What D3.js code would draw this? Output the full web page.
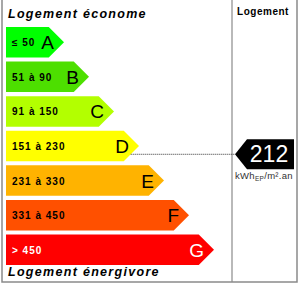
<!DOCTYPE html>
<html><head><meta charset="utf-8">
<script src="https://cdn.jsdelivr.net/npm/d3@7/dist/d3.min.js"></script>
<style>html,body{margin:0;padding:0;background:#fff;}svg{display:block;}</style>
</head><body><div id="chart"></div>
<script>
const classes = ["A","B","C","D","E","F","G"];
const ranges = ["≤ 50","51 à 90","91 à 150","151 à 230","231 à 330","331 à 450","> 450"];
const lows = [0,51,91,151,231,331,451];
const highs = [50,90,150,230,330,450,600];
const colors = ["#00ff00","#4ddf00","#b3ff00","#ffff00","#ffb300","#ff5000","#ff0000"];
const textColors = ["#000","#000","#000","#000","#000","#000","#fff"];
const value = 212;
const unitMain = "kWh", unitSub = "EP", unitTail = "/m².an";
const topTitle = "Logement économe", bottomTitle = "Logement énergivore", colTitle = "Logement";

const W = 300, H = 285;
const svg = d3.select("#chart").append("svg").attr("width", W).attr("height", H);
const font = "'Liberation Sans', Arial, Helvetica, sans-serif";

const y = d3.scaleBand().domain(classes).range([27, 265]).paddingInner(0.12).paddingOuter(0);
const tipX = d3.scaleLinear().domain([0, 6]).range([64, 214]);
const x0 = 6;
const bh = y.bandwidth();
const depth = bh / 2;

// frame
svg.append("path").attr("d", `M2,0 V282 H297 V0`).attr("fill","none").attr("stroke","#8a8a8a").attr("stroke-width",1.5);
svg.append("line").attr("x1",232).attr("x2",232).attr("y1",0).attr("y2",282).attr("stroke","#8a8a8a").attr("stroke-width",1.2);

// titles
svg.append("text").attr("x",8).attr("y",18).text(topTitle)
  .attr("font-family",font).attr("font-weight","bold").attr("font-style","italic").attr("font-size",12.5).attr("letter-spacing",1.3).attr("fill","#000");
svg.append("text").attr("x",8).attr("y",276).text(bottomTitle)
  .attr("font-family",font).attr("font-weight","bold").attr("font-style","italic").attr("font-size",12.5).attr("letter-spacing",1.3).attr("fill","#000");
svg.append("text").attr("x",263).attr("y",15).attr("text-anchor","middle").text(colTitle)
  .attr("font-family",font).attr("font-weight","bold").attr("font-size",10).attr("letter-spacing",0.5).attr("fill","#000");

const g = svg.selectAll("g.bar").data(classes).enter().append("g").attr("class","bar");
g.append("path").attr("d",(d,i)=>{
  const t = tipX(i), yy = y(d);
  return `M${x0},${yy} H${t-depth} L${t},${yy+bh/2} L${t-depth},${yy+bh} H${x0} Z`;
}).attr("fill",(d,i)=>colors[i]);
g.append("text").attr("x",12).attr("y",d=>y(d)+bh/2+4).text((d,i)=>ranges[i])
  .attr("font-family",font).attr("font-weight","bold").attr("font-size",10).attr("letter-spacing",1)
  .attr("fill",(d,i)=>textColors[i]);
g.append("text").attr("x",(d,i)=>tipX(i)-10).attr("y",d=>y(d)+bh/2+7).attr("text-anchor","end").text(d=>d)
  .attr("font-family",font).attr("font-size",19).attr("fill",(d,i)=>textColors[i]);

// value marker
const ci = lows.findIndex((l,i)=> value>=l && value<=highs[i]);
const vy = d3.scaleLinear().domain([lows[ci], highs[ci]]).range([y(classes[ci]), y(classes[ci])+bh])(value);
const dTip = tipX(ci);
const startX = dTip - (Math.abs(vy - (y(classes[ci])+bh/2)))*(depth/(bh/2)) ;
svg.append("line").attr("x1",startX).attr("x2",235).attr("y1",vy).attr("y2",vy)
  .attr("stroke","#333").attr("stroke-width",1).attr("stroke-dasharray","1,1");
const mh = 30, md = 12;
svg.append("path").attr("d",`M235,${vy} L${235+md},${vy-mh/2} H294 V${vy+mh/2} H${235+md} Z`).attr("fill","#000");
svg.append("text").attr("x",269).attr("y",vy+8).attr("text-anchor","middle").text(value)
  .attr("font-family",font).attr("font-size",23).attr("fill","#fff");
const ut = svg.append("text").attr("x",264).attr("y",vy+25).attr("text-anchor","middle")
  .attr("font-family",font).attr("font-size",9.5).attr("fill","#333").attr("letter-spacing",0.3);
ut.append("tspan").text(unitMain);
ut.append("tspan").text(unitSub).attr("font-size",6.5).attr("dy",2);
ut.append("tspan").text(unitTail).attr("dy",-2);
</script></body></html>
